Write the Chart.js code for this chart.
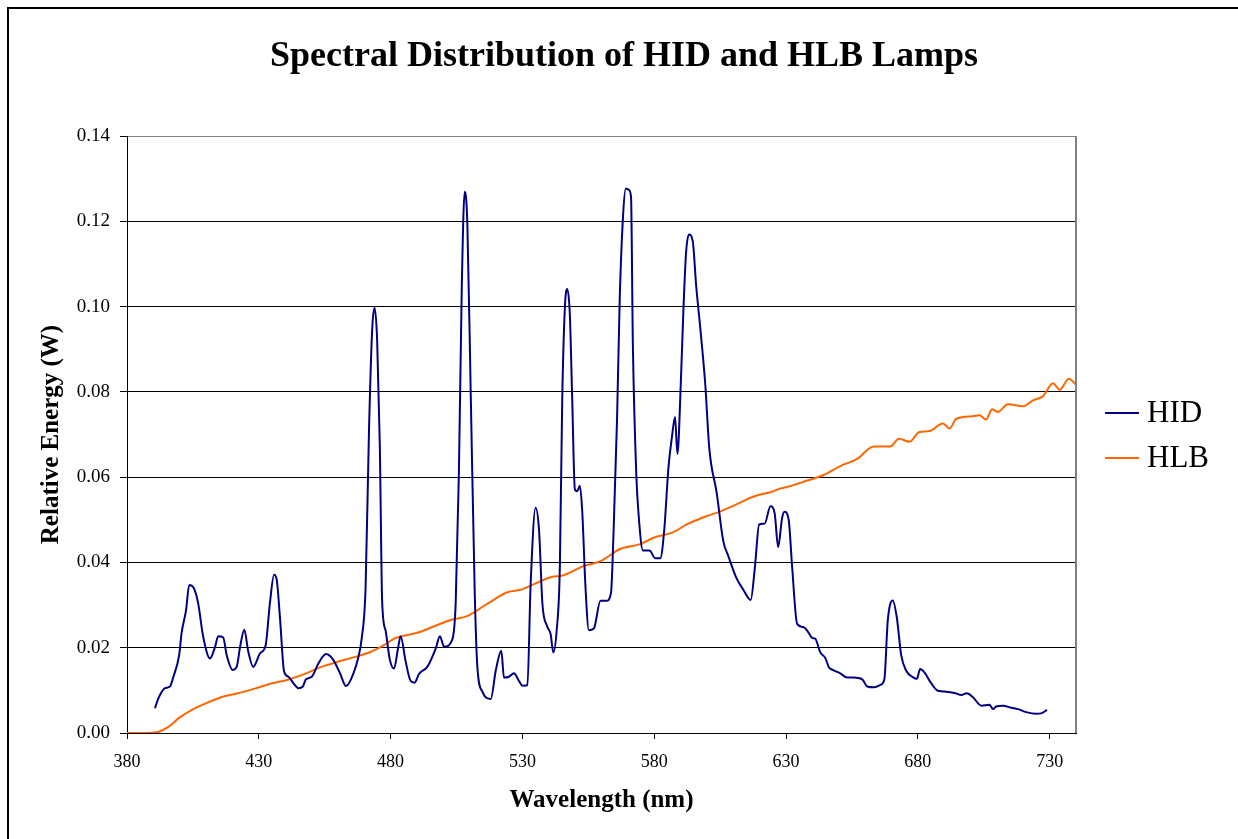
<!DOCTYPE html>
<html>
<head>
<meta charset="utf-8">
<script src="https://cdn.jsdelivr.net/npm/chart.js@4.4.1/dist/chart.umd.min.js"></script>
<style>
  html, body { margin: 0; padding: 0; background: #fff; overflow: hidden; }
  #frame { position: absolute; left: 7px; top: 7px; width: 1300px; height: 900px;
           border-left: 2px solid #000; border-top: 2px solid #000; }
  #wrap { position: absolute; left: 0; top: 0; width: 1238px; height: 839px; }
</style>
</head>
<body>
<div id="frame"></div>
<div id="wrap"><canvas id="chart" width="1238" height="839"></canvas></div>
<script>
const TITLE = 'Spectral Distribution of HID and HLB Lamps';
const X_TICKS = [380, 430, 480, 530, 580, 630, 680, 730];
const Y_TICKS = [0, 0.02, 0.04, 0.06, 0.08, 0.10, 0.12, 0.14];

// HID lamp (nm, W)
const HID_NM = [
  390.6, 391.9, 394.4, 396.3, 397.6, 399.8, 400.7, 402.4, 403.6, 405.4,
  407.0, 408.9, 411.5, 413.4, 414.6, 416.5, 417.8, 420.1, 421.6, 422.9,
  424.5, 426.0, 427.9, 430.5, 432.6, 434.2, 435.8, 436.8, 438.0, 439.6,
  441.2, 443.1, 445.0, 446.7, 447.9, 450.1, 452.6, 455.5, 458.3, 460.8,
  463.1, 465.9, 467.8, 469.0, 470.5, 471.8, 473.0, 473.9, 474.9, 475.9,
  476.8, 478.1, 479.7, 481.3, 482.8, 483.8, 485.7, 487.6, 489.1, 490.8,
  493.9, 497.1, 498.7, 500.3, 503.4, 504.7, 505.9, 507.0, 508.1, 509.1,
  510.4, 511.9, 512.9, 514.8, 518.0, 519.9, 522.0, 523.0, 524.9, 526.8,
  528.7, 530.0, 531.9, 533.1, 535.0, 536.3, 537.6, 539.4, 540.7, 541.7,
  543.0, 544.2, 545.1, 546.1, 547.0, 548.0, 548.9, 549.9, 550.8, 551.8,
  552.7, 553.9, 555.2, 557.1, 559.6, 561.9, 563.6, 564.6, 565.9, 566.9,
  568.2, 569.2, 570.3, 571.2, 571.9, 573.2, 574.1, 575.7, 578.2, 580.4,
  582.3, 583.8, 585.4, 586.7, 587.9, 588.8, 590.1, 591.1, 592.1, 593.2,
  594.6, 595.9, 597.4, 599.3, 600.9, 603.7, 606.2, 608.1, 611.2, 613.8,
  616.6, 618.2, 619.8, 621.9, 624.1, 625.7, 627.0, 628.5, 629.4, 631.0,
  632.3, 634.2, 636.7, 638.6, 639.9, 641.1, 643.0, 644.9, 646.2, 648.1,
  650.6, 653.2, 655.7, 658.9, 660.8, 663.3, 665.8, 667.3, 668.6, 670.5,
  672.0, 673.7, 675.6, 678.1, 679.6, 680.9, 682.5, 684.4, 687.6, 690.8,
  693.9, 696.5, 698.6, 700.9, 704.1, 707.2, 708.5, 709.7, 712.3, 715.4,
  718.0, 721.1, 724.9, 726.8, 729.0
];
const HID_W = [
  0.0058, 0.0081, 0.0105, 0.0109, 0.0132, 0.0183, 0.0234, 0.0288, 0.0347, 0.0339,
  0.0304, 0.0226, 0.0175, 0.0202, 0.0227, 0.0224, 0.0183, 0.0148, 0.0155, 0.0202,
  0.0242, 0.0191, 0.0155, 0.0187, 0.0206, 0.0304, 0.0371, 0.0359, 0.0273, 0.0144,
  0.0132, 0.0117, 0.0105, 0.0109, 0.0126, 0.0132, 0.0163, 0.0185, 0.0171, 0.0140,
  0.0110, 0.0140, 0.0179, 0.0220, 0.0340, 0.0710, 0.0945, 0.0997, 0.0920, 0.0676,
  0.0307, 0.0240, 0.0172, 0.0151, 0.0198, 0.0227, 0.0168, 0.0122, 0.0118, 0.0139,
  0.0155, 0.0198, 0.0227, 0.0202, 0.0219, 0.0307, 0.0609, 0.1046, 0.1269, 0.1197,
  0.0794, 0.0332, 0.0156, 0.0097, 0.0080, 0.0147, 0.0193, 0.0130, 0.0132, 0.0140,
  0.0122, 0.0111, 0.0112, 0.0345, 0.0528, 0.0476, 0.0302, 0.0250, 0.0232, 0.0189,
  0.0241, 0.0389, 0.0780, 0.0997, 0.1041, 0.0980, 0.0780, 0.0571, 0.0567, 0.0580,
  0.0519, 0.0345, 0.0241, 0.0245, 0.0310, 0.0310, 0.0328, 0.0476, 0.0737, 0.1015,
  0.1215, 0.1277, 0.1274, 0.1258, 0.0910, 0.0606, 0.0510, 0.0428, 0.0428, 0.0410,
  0.0410, 0.0476, 0.0623, 0.0693, 0.0741, 0.0654, 0.0823, 0.0997, 0.1128, 0.1169,
  0.1154, 0.1050, 0.0954, 0.0823, 0.0667, 0.0563, 0.0450, 0.0415, 0.0363, 0.0336,
  0.0312, 0.0389, 0.0489, 0.0491, 0.0532, 0.0515, 0.0436, 0.0504, 0.0519, 0.0500,
  0.0391, 0.0256, 0.0248, 0.0235, 0.0223, 0.0221, 0.0189, 0.0176, 0.0155, 0.0147,
  0.0140, 0.0130, 0.0130, 0.0126, 0.0109, 0.0107, 0.0113, 0.0126, 0.0264, 0.0311,
  0.0272, 0.0182, 0.0146, 0.0131, 0.0127, 0.0150, 0.0142, 0.0123, 0.0099, 0.0097,
  0.0094, 0.0089, 0.0093, 0.0084, 0.0064, 0.0066, 0.0056, 0.0062, 0.0064, 0.0059,
  0.0056, 0.0049, 0.0045, 0.0046, 0.0054
];

// HLB lamp
const HLB_NM = [
  380, 385, 390.4, 392.0, 395.4, 399.9, 404.3, 409.4, 415.7, 422.0,
  428.4, 434.7, 441.0, 447.3, 453.7, 460.0, 466.3, 472.4, 477.5, 481.6,
  490.1, 496.8, 502.8, 509.0, 515.4, 517.7, 524.3, 529.4, 534.4, 542.0,
  544.3, 553.4, 559.7, 567.2, 574.7, 579.7, 587.3, 592.3, 600.0, 604.9,
  611.2, 617.5, 625.3, 627.6, 631.0, 638.0, 644.3, 650.6, 657.0, 663.3,
  669.6, 672.8, 676.8, 680.6, 684.4, 689.5, 692.0, 694.6, 700.9, 703.4,
  705.9, 708.2, 710.3, 714.2, 719.9, 723.7, 727.5, 731.3, 733.8, 737.3,
  740
];
const HLB_W = [
  0, 0, 0.0001, 0.0003, 0.0013, 0.0036, 0.0053, 0.0068, 0.0084, 0.0093,
  0.0104, 0.0116, 0.0125, 0.0138, 0.0155, 0.0167, 0.0178, 0.0190, 0.0206, 0.0222,
  0.0235, 0.0251, 0.0265, 0.0274, 0.0298, 0.0307, 0.0330, 0.0336, 0.0349, 0.0367,
  0.0368, 0.0392, 0.0403, 0.0432, 0.0443, 0.0458, 0.0471, 0.0489, 0.0509, 0.0519,
  0.0536, 0.0554, 0.0567, 0.0573, 0.0578, 0.0592, 0.0605, 0.0626, 0.0643, 0.0672,
  0.0672, 0.0690, 0.0683, 0.0706, 0.0708, 0.0726, 0.0714, 0.0737, 0.0743, 0.0745,
  0.0735, 0.0759, 0.0753, 0.0771, 0.0766, 0.0780, 0.0790, 0.0820, 0.0805, 0.0831,
  0.0817
];

const SERIES = [
  { label: 'HID', nm: HID_NM, w: HID_W, color: '#000080' },
  { label: 'HLB', nm: HLB_NM, w: HLB_W, color: '#FF6600' },
];

const FONT = "'Liberation Serif', 'Times New Roman', serif";

// title, legend and the grey right edge of the plot area
const decor = {
  id: 'decor',
  afterDraw(chart) {
    const { ctx, chartArea } = chart;
    ctx.save();
    ctx.strokeStyle = '#808080';
    ctx.lineWidth = 2;
    ctx.beginPath();
    ctx.moveTo(chartArea.right, chartArea.top);
    ctx.lineTo(chartArea.right, chartArea.bottom);
    ctx.stroke();

    ctx.fillStyle = '#000';
    ctx.textAlign = 'center';
    ctx.textBaseline = 'middle';
    ctx.font = `bold 36px ${FONT}`;
    ctx.fillText(TITLE, 624, 57);

    ctx.textAlign = 'left';
    ctx.font = `31px ${FONT}`;
    SERIES.forEach((s, i) => {
      const y = 413 + i * 45;
      ctx.strokeStyle = s.color;
      ctx.lineWidth = 2;
      ctx.beginPath();
      ctx.moveTo(1105, y);
      ctx.lineTo(1139, y);
      ctx.stroke();
      ctx.fillText(s.label, 1147, y + 1);
    });
    ctx.restore();
  },
};

new Chart(document.getElementById('chart'), {
  type: 'line',
  data: {
    datasets: SERIES.map((s) => ({
      label: s.label,
      data: s.nm.map((x, i) => ({ x, y: s.w[i] })),
      borderColor: s.color,
      backgroundColor: s.color,
      borderWidth: 2,
      pointRadius: 0,
      cubicInterpolationMode: 'monotone',
      fill: false,
    })),
  },
  options: {
    responsive: false,
    animation: false,
    devicePixelRatio: 1,
    layout: { padding: { left: 0, top: 136, right: 162, bottom: 0 } },
    plugins: { legend: { display: false }, title: { display: false }, tooltip: { enabled: false } },
    scales: {
      x: {
        type: 'linear',
        min: 380,
        max: 740,
        afterBuildTicks: (scale) => { scale.ticks = X_TICKS.map((v) => ({ value: v })); },
        afterFit: (scale) => { scale.height = 106; },
        grid: { drawOnChartArea: false, tickLength: 6, tickColor: '#000' },
        border: { color: '#000', width: 1 },
        ticks: { color: '#000', font: { family: FONT, size: 18 }, padding: 12, maxRotation: 0 },
        title: {
          display: true,
          text: 'Wavelength (nm)',
          color: '#000',
          font: { family: FONT, size: 25, weight: 'bold' },
          padding: { top: 0, bottom: 23 },
        },
      },
      y: {
        min: 0,
        max: 0.14,
        afterBuildTicks: (scale) => { scale.ticks = Y_TICKS.map((v) => ({ value: v })); },
        afterFit: (scale) => { scale.width = 127; },
        grid: {
          color: (c) => (c.index === Y_TICKS.length - 1 ? '#808080' : '#000'),
          lineWidth: 1,
          tickLength: 7,
          tickColor: '#000',
        },
        border: { color: '#000', width: 1 },
        ticks: {
          color: '#000',
          font: { family: FONT, size: 19 },
          padding: 10,
          callback: (v) => Number(v).toFixed(2),
        },
        title: {
          display: true,
          text: 'Relative Energy (W)',
          color: '#000',
          font: { family: FONT, size: 25, weight: 'bold' },
          padding: { top: 37, bottom: 0 },
        },
      },
    },
  },
  plugins: [decor],
});
</script>
</body>
</html>
